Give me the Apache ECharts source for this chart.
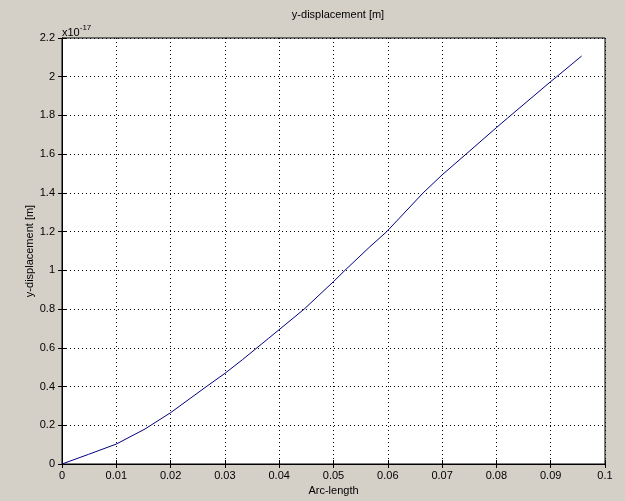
<!DOCTYPE html>
<html>
<head>
<meta charset="utf-8">
<script src="https://cdn.jsdelivr.net/npm/echarts@6/dist/echarts.min.js"></script>
<style>
html,body{margin:0;padding:0;background:#d4d0c8;}
#chart{width:625px;height:501px;}
</style>
</head>
<body>
<div id="chart"></div>
<script>
// Data (y values in units of 1e-17 m)
var arcLength = [0, 0.0049, 0.01, 0.0153, 0.02, 0.0266, 0.03, 0.0332, 0.038, 0.0446, 0.05, 0.0521, 0.0567, 0.0598, 0.0665, 0.07, 0.0744, 0.08, 0.082, 0.09, 0.0911, 0.0957];
var yDisp = [0, 0.050, 0.103, 0.181, 0.265, 0.4, 0.468, 0.538, 0.648, 0.8, 0.942, 1.0, 1.122, 1.2, 1.4, 1.493, 1.6, 1.737, 1.785, 1.975, 2.0, 2.107];
var titleText = 'y-displacement [m]';
var xName = 'Arc-length';
var yName = 'y-displacement [m]';

var chart = echarts.init(document.getElementById('chart'), null, {renderer: 'canvas'});
var pts = arcLength.map(function (x, i) { return [x, yDisp[i]]; });
var font = 'Liberation Sans';
var gridLine = {show: true, lineStyle: {color: '#000', width: 1, type: [1, 3]}};

chart.setOption({
  backgroundColor: '#d4d0c8',
  animation: false,
  title: {
    text: titleText, left: 333, top: 4, textAlign: 'center',
    textStyle: {fontFamily: font, fontSize: 11, fontWeight: 'normal', color: '#000'}
  },
  grid: {left: 62, right: 20, top: 38, bottom: 37, show: true, backgroundColor: '#fff', borderColor: '#000', borderWidth: 1},
  xAxis: [{
    type: 'value', min: 0, max: 0.1, interval: 0.01,
    name: xName, nameLocation: 'middle', nameGap: 21, nameMoveOverlap: false,
    nameTextStyle: {fontFamily: font, fontSize: 11, color: '#000'},
    axisLine: {show: true, lineStyle: {color: '#000', width: 1}},
    axisTick: {show: true, inside: true, length: 4, lineStyle: {color: '#000'}},
    axisLabel: {fontFamily: font, fontSize: 11, color: '#000', margin: 6},
    splitLine: gridLine
  }, {
    type: 'value', position: 'top', min: 0, max: 0.1, interval: 0.01,
    axisLine: {show: true, lineStyle: {color: '#000'}},
    axisTick: {show: true, inside: true, length: 4, lineStyle: {color: '#000'}},
    axisLabel: {show: false}, splitLine: {show: false}
  }],
  yAxis: [{
    type: 'value', min: 0, max: 2.2, interval: 0.2,
    name: yName, nameLocation: 'middle', nameGap: 27, nameRotate: 90, nameMoveOverlap: false,
    nameTextStyle: {fontFamily: font, fontSize: 11, color: '#000'},
    axisLine: {show: true, lineStyle: {color: '#000', width: 1}},
    axisTick: {show: true, inside: true, length: 4, lineStyle: {color: '#000'}},
    axisLabel: {fontFamily: font, fontSize: 11, color: '#000', margin: 7},
    splitLine: gridLine
  }, {
    type: 'value', position: 'right', min: 0, max: 2.2, interval: 0.2,
    axisLine: {show: true, lineStyle: {color: '#000'}},
    axisTick: {show: true, inside: true, length: 4, lineStyle: {color: '#000'}},
    axisLabel: {show: false}, splitLine: {show: false}
  }],
  graphic: [{
    type: 'text', left: 62, top: 24,
    style: {
      text: '{b|x10}{s|-17}',
      rich: {
        b: {fontFamily: font, fontSize: 11, fill: '#000', padding: [6, 0, 0, 0]},
        s: {fontFamily: font, fontSize: 8, fill: '#000', padding: [0, 0, 4, 0]}
      }
    }
  }],
  series: [{
    type: 'line', xAxisIndex: 0, yAxisIndex: 0,
    data: pts, showSymbol: false, smooth: false,
    lineStyle: {color: '#000080', width: 1}
  }]
});
</script>
</body>
</html>
